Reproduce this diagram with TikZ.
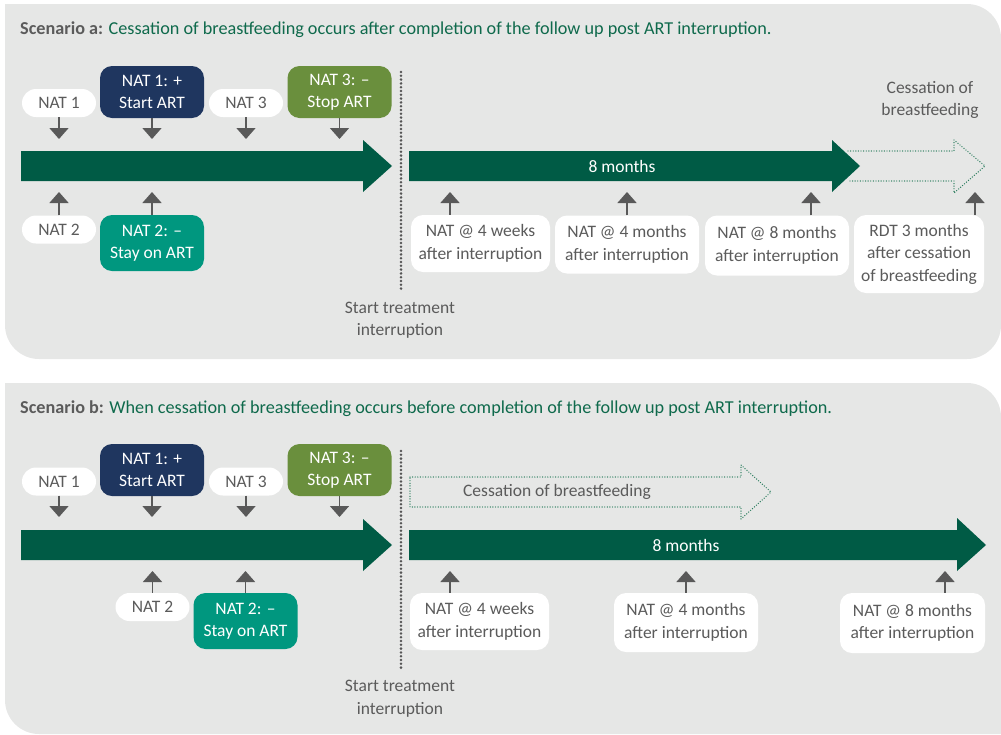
\documentclass[tikz,border=0pt]{standalone}
\usepackage{fontspec}
\setmainfont{Carlito}
\usetikzlibrary{arrows.meta}
\definecolor{panelbg}{HTML}{E6E7E6}
\definecolor{dgreen}{HTML}{005B45}
\definecolor{navy}{HTML}{1F365F}
\definecolor{olive}{HTML}{6A8F3D}
\definecolor{teal}{HTML}{00977F}
\definecolor{agray}{HTML}{595959}
\definecolor{tgray}{HTML}{5B5B5B}
\definecolor{titlegreen}{HTML}{0F6A4C}
\definecolor{dotgreen}{HTML}{2B7D5E}
\definecolor{dotgray}{HTML}{555555}
\newcommand\boxfont{\fontsize{17.5}{22.5}\selectfont}
\newcommand\titlefont{\fontsize{18.2}{20}\selectfont}
\begin{document}
\begin{tikzpicture}[x=1pt,y=1pt,
 box/.style={rounded corners=12pt, inner sep=0pt, align=center, font=\boxfont},
 wpill/.style={box, fill=white, text=tgray, minimum width=74pt, minimum height=28pt, rounded corners=14pt},
 wbox/.style={box, fill=white, text=tgray},
 cbox/.style={box, fill=#1, text=white, minimum width=104pt},
 sarr/.style={draw=agray, line width=1.6pt, -{Triangle[width=19pt,length=11pt]}},
 bigarrow/.style={fill=dgreen},
 dotv/.style={draw=dotgray, line width=2.8pt, line cap=round, dash pattern=on 0pt off 3.8pt},
 dota/.style={draw=dotgreen, line width=1.4pt, line cap=round, dash pattern=on 0pt off 2.6pt},
 note/.style={text=tgray, align=center, font=\boxfont, inner sep=0pt},
 ttl/.style={anchor=base west, inner sep=0pt, font=\titlefont}
]
\useasboundingbox (0,0) rectangle (1001,-734);
% panels
\fill[panelbg] (5,-4) -- (967,-4) arc[start angle=90,end angle=0,radius=34] -- (1001,-325) arc[start angle=0,end angle=-90,radius=34] -- (39,-359) arc[start angle=270,end angle=180,radius=34] -- cycle;
\fill[panelbg] (5,-383) -- (967,-383) arc[start angle=90,end angle=0,radius=34] -- (1001,-734) -- (39,-734) arc[start angle=270,end angle=180,radius=34] -- cycle;

% ================= Scenario a =================
\node[ttl] (ta) at (20,-34) {\textcolor{tgray}{\bfseries Scenario a:} \textcolor{titlegreen}{Cessation of breastfeeding occurs after completion of the follow up post ART interruption.}};

\node[wpill] (an1) at (59,-103) {NAT 1};
\node[cbox=navy, minimum height=52pt] (an1p) at (152,-92) {NAT 1: +\\Start ART};
\node[wpill] (an3) at (246,-103) {NAT 3};
\node[cbox=olive, minimum height=52pt] (an3m) at (339.5,-92) {NAT 3: --\\Stop ART};
\node[wpill] (an2) at (59,-229.5) {NAT 2};
\node[cbox=teal, minimum height=56pt] (an2m) at (152,-243) {NAT 2: --\\Stay on ART};

% dotted outline arrow (behind)
\draw[dota] (848,-151) -- (954,-151) -- (954,-140) -- (985,-166) -- (954,-193) -- (954,-181) -- (848,-181);
% big arrows
\fill[bigarrow] (21,-151) -- (363,-151) -- (363,-140) -- (392,-166) -- (363,-192) -- (363,-181) -- (21,-181) -- cycle;
\fill[bigarrow] (409,-151) -- (832,-151) -- (832,-140) -- (860,-166) -- (832,-192) -- (832,-181) -- (409,-181) -- cycle;
\node[text=white, font=\boxfont, inner sep=0pt] (am) at (622,-166) {8 months};

\coordinate (ad1) at (59,-139);
\coordinate (ad2) at (152,-139);
\coordinate (ad3) at (246,-139);
\coordinate (ad4) at (339.5,-139);
\draw[sarr] (an1.south) -- (ad1);
\draw[sarr] (an1p.south) -- (ad2);
\draw[sarr] (an3.south) -- (ad3);
\draw[sarr] (an3m.south) -- (ad4);
\coordinate (au1) at (59,-192);
\coordinate (au2) at (152,-192);
\draw[sarr] (an2.north) -- (au1);
\draw[sarr] (an2m.north) -- (au2);

\coordinate (avt) at (401,-72);
\coordinate (avb) at (401,-290);
\draw[dotv] (avt) -- (avb);
\node[note] (ast) at (400,-320) {Start treatment\\interruption};
\node[note] (acb) at (930,-100) {Cessation of\\breastfeeding};

\node[wbox, minimum width=139pt, minimum height=57pt] (ab1) at (480.5,-243.5) {NAT @ 4 weeks\\after interruption};
\node[wbox, minimum width=144pt, minimum height=58pt] (ab2) at (627,-244.5) {NAT @ 4 months\\after interruption};
\node[wbox, minimum width=144pt, minimum height=60pt] (ab3) at (777,-245.5) {NAT @ 8 months\\after interruption};
\node[wbox, minimum width=130pt, minimum height=78pt] (ab4) at (919,-254) {RDT 3 months\\after cessation\\of breastfeeding};
\coordinate (at1) at (450,-192);
\coordinate (at2) at (627,-192);
\coordinate (at3) at (811,-192);
\coordinate (at4) at (975,-192);
\draw[sarr] (ab1.north -| at1) -- (at1);
\draw[sarr] (ab2.north -| at2) -- (at2);
\draw[sarr] (ab3.north -| at3) -- (at3);
\draw[sarr] (ab4.north -| at4) -- (at4);

% ================= Scenario b =================
\node[ttl] (tb) at (20,-413) {\textcolor{tgray}{\bfseries Scenario b:} \textcolor{titlegreen}{When cessation of breastfeeding occurs before completion of the follow up post ART interruption.}};

\node[wpill] (bn1) at (59,-481.5) {NAT 1};
\node[cbox=navy, minimum height=52pt] (bn1p) at (152,-470) {NAT 1: +\\Start ART};
\node[wpill] (bn3) at (246,-481.5) {NAT 3};
\node[cbox=olive, minimum height=52pt] (bn3m) at (339.5,-470) {NAT 3: --\\Stop ART};
\node[wpill] (bn2) at (152.5,-607) {NAT 2};
\node[cbox=teal, minimum height=56pt] (bn2m) at (245.5,-621) {NAT 2: --\\Stay on ART};

\draw[dota] (410,-477) -- (741,-477) -- (741,-465) -- (771,-492) -- (741,-519) -- (741,-507) -- (410,-507) -- cycle;
\node[note] (bcb) at (557,-492) {Cessation of breastfeeding};

\fill[bigarrow] (21,-530) -- (363,-530) -- (363,-519) -- (392,-545) -- (363,-571) -- (363,-560) -- (21,-560) -- cycle;
\fill[bigarrow] (409,-530) -- (957,-530) -- (957,-518) -- (986,-545) -- (957,-571) -- (957,-560) -- (409,-560) -- cycle;
\node[text=white, font=\boxfont, inner sep=0pt] (bm) at (686,-545) {8 months};

\coordinate (bd1) at (59,-517);
\coordinate (bd2) at (152,-517);
\coordinate (bd3) at (246,-517);
\coordinate (bd4) at (339.5,-517);
\draw[sarr] (bn1.south) -- (bd1);
\draw[sarr] (bn1p.south) -- (bd2);
\draw[sarr] (bn3.south) -- (bd3);
\draw[sarr] (bn3m.south) -- (bd4);
\coordinate (bu1) at (152.5,-571);
\coordinate (bu2) at (245.5,-571);
\draw[sarr] (bn2.north) -- (bu1);
\draw[sarr] (bn2m.north) -- (bu2);

\coordinate (bvt) at (401,-451);
\coordinate (bvb) at (401,-668);
\draw[dotv] (bvt) -- (bvb);
\node[note] (bst) at (400,-698.5) {Start treatment\\interruption};

\node[wbox, minimum width=139pt, minimum height=57pt] (bb1) at (479.5,-621.5) {NAT @ 4 weeks\\after interruption};
\node[wbox, minimum width=144pt, minimum height=59pt] (bb2) at (686,-622.5) {NAT @ 4 months\\after interruption};
\node[wbox, minimum width=145pt, minimum height=60pt] (bb3) at (912.5,-623) {NAT @ 8 months\\after interruption};
\coordinate (bt1) at (450,-571);
\coordinate (bt2) at (686,-571);
\coordinate (bt3) at (945,-571);
\draw[sarr] (bb1.north -| bt1) -- (bt1);
\draw[sarr] (bb2.north -| bt2) -- (bt2);
\draw[sarr] (bb3.north -| bt3) -- (bt3);
\end{tikzpicture}
\end{document}
